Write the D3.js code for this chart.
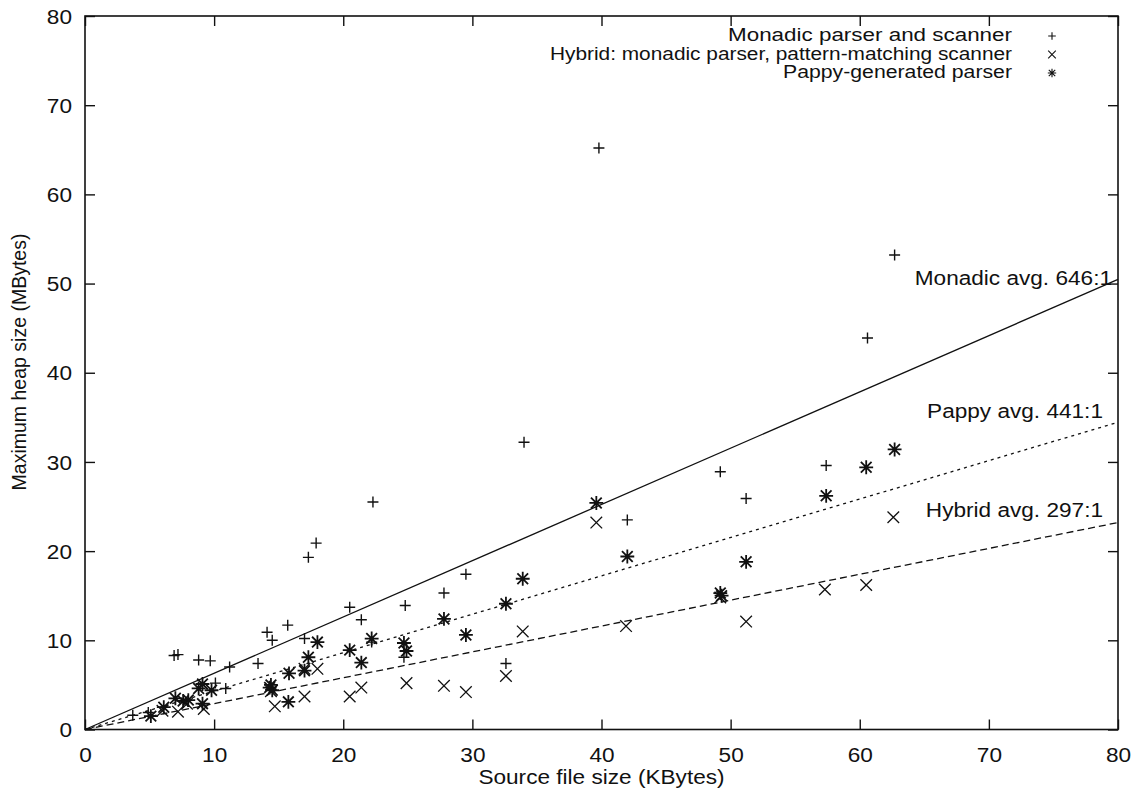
<!DOCTYPE html>
<html>
<head>
<meta charset="utf-8">
<script src="https://cdn.jsdelivr.net/npm/d3@7"></script>
<style>
  html, body { margin: 0; padding: 0; background: #fff; }
  svg { display: block; }
  text { font-family: "Liberation Sans", Arial, sans-serif; fill: #111; }
</style>
</head>
<body>
<svg id="chart" width="1135" height="801"></svg>
<script>
// ---------- DATA ----------
const xTicks = [0, 10, 20, 30, 40, 50, 60, 70, 80];
const yTicks = [0, 10, 20, 30, 40, 50, 60, 70, 80];

const seriesNames = [
  "Monadic parser and scanner",
  "Hybrid: monadic parser, pattern-matching scanner",
  "Pappy-generated parser"
];

// Monadic parser and scanner (+)
const monadic = [
  [3.7,1.6],[4.9,1.9],[6.9,8.3],[7.2,8.4],[8.8,7.8],[9.7,7.7],[10.1,5.2],[10.9,4.6],
  [11.2,7.0],[13.4,7.4],[14.1,10.9],[14.5,10.0],[15.7,11.7],[17.0,10.2],[17.3,19.3],
  [17.9,20.9],[20.5,13.7],[21.4,12.3],[22.3,25.5],[22.2,9.8],[24.8,13.9],[24.7,8.1],
  [27.8,15.3],[29.5,17.4],[32.6,7.4],[34.0,32.2],[39.8,65.2],[42.0,23.5],[49.2,28.9],
  [51.2,25.9],[57.4,29.6],[60.6,43.9],[62.7,53.2]
];

// Hybrid: monadic parser, pattern-matching scanner (x)
const hybrid = [
  [6.0,2.1],[7.2,2.0],[7.9,2.9],[9.2,2.3],[14.4,4.3],[14.7,2.6],[17.0,3.7],[17.0,6.8],
  [18.0,6.8],[20.5,3.7],[21.4,4.7],[24.9,5.2],[27.8,4.9],[29.5,4.2],[32.6,6.0],
  [33.9,11.0],[39.6,23.2],[41.9,11.6],[49.2,14.8],[51.2,12.1],[57.3,15.7],[60.5,16.2],
  [62.6,23.8]
];

// Pappy-generated parser (*)
const pappy = [
  [5.1,1.5],[6.1,2.5],[7.0,3.5],[7.6,3.2],[8.0,3.3],[8.8,4.6],[9.1,5.1],[9.1,2.9],
  [9.8,4.4],[14.3,4.7],[14.5,4.4],[14.4,5.0],[15.75,3.1],[15.8,6.3],[17.0,6.6],
  [17.3,8.1],[18.0,9.8],[20.5,8.9],[21.4,7.5],[22.2,10.2],[24.7,9.7],[24.9,8.8],
  [27.8,12.4],[29.5,10.6],[32.6,14.1],[33.9,16.9],[39.6,25.4],[42.0,19.4],[49.2,15.3],
  [49.3,15.0],[51.2,18.8],[57.4,26.2],[60.5,29.4],[62.7,31.4]
];

// Average ratio lines (heap bytes per source byte; MB per KB = ratio/1024)
const avgNames  = ["Monadic avg. 646:1", "Pappy avg. 441:1", "Hybrid avg. 297:1"];
const avgRatios = [646, 441, 297];

const xLabel = "Source file size (KBytes)";
const yLabel = "Maximum heap size (MBytes)";

// ---------- LAYOUT ----------
const L = 85, R = 1118, T = 16, B = 729.5;
const STRETCH = 1.13;   // the original figure is horizontally stretched
const FS = 20;

const svg = d3.select("#chart");
const x = d3.scaleLinear().domain([0, 80]).range([L, R]);
const y = d3.scaleLinear().domain([0, 80]).range([B, T]);

// axes (inward ticks, mirrored)
const gB = svg.append("g").attr("transform", `translate(0,${B})`)
  .call(d3.axisBottom(x).tickValues(xTicks).tickSizeInner(-10).tickSizeOuter(0).tickPadding(18.5));
const gL = svg.append("g").attr("transform", `translate(${L},0)`)
  .call(d3.axisLeft(y).tickValues(yTicks).tickSizeInner(-10).tickSizeOuter(0).tickPadding(13));
const gT = svg.append("g").attr("transform", `translate(0,${T})`)
  .call(d3.axisTop(x).tickValues(xTicks).tickSizeInner(-10).tickSizeOuter(0).tickFormat(""));
const gR = svg.append("g").attr("transform", `translate(${R},0)`)
  .call(d3.axisRight(y).tickValues(yTicks).tickSizeInner(-10).tickSizeOuter(0).tickFormat(""));

[gB, gL, gT, gR].forEach(g => {
  g.select(".domain").remove();
  g.selectAll(".tick line").attr("stroke", "#111").attr("stroke-width", 1.4);
  g.selectAll(".tick text").attr("font-size", FS).attr("fill", "#111")
    .style("font-family", '"Liberation Sans", Arial, sans-serif').classed("st", true);
});
gL.selectAll(".tick text").attr("dy", "0.36em");

// frame
svg.append("rect").attr("x", L).attr("y", T).attr("width", R - L).attr("height", B - T)
  .attr("fill", "none").attr("stroke", "#111").attr("stroke-width", 1.6);

// average lines
const lineStyles = [null, "3,4", "7,4"];
const lineGen = d3.line().x(d => x(d[0])).y(d => y(d[1]));
avgRatios.forEach((r, i) => {
  const pts = [[0, 0], [80, 80 * r / 1024]];
  svg.append("path").attr("d", lineGen(pts)).attr("fill", "none")
    .attr("stroke", "#111").attr("stroke-width", 1.3)
    .attr("stroke-dasharray", lineStyles[i]);
});

// line labels
const labelPos = [[1112, 285], [1103, 418], [1103, 517]];
avgNames.forEach((t, i) => {
  svg.append("text").attr("class", "st").attr("x", labelPos[i][0]).attr("y", labelPos[i][1])
    .attr("text-anchor", "end").attr("font-size", FS).text(t);
});

// marker shapes
function plus(g, cx, cy, s, w) {
  g.append("path").attr("d", `M${cx - s},${cy}H${cx + s}M${cx},${cy - s}V${cy + s}`)
    .attr("stroke", "#111").attr("stroke-width", w).attr("fill", "none");
}
function cross(g, cx, cy, s, w) {
  g.append("path").attr("d", `M${cx - s},${cy - s}L${cx + s},${cy + s}M${cx - s},${cy + s}L${cx + s},${cy - s}`)
    .attr("stroke", "#111").attr("stroke-width", w).attr("fill", "none");
}
function star(g, cx, cy, s, w) {
  plus(g, cx, cy, s * 1.1, w);
  cross(g, cx, cy, s * 0.85, w);
  g.append("circle").attr("cx", cx).attr("cy", cy).attr("r", s * 0.38).attr("fill", "#111");
}
const drawers = [plus, cross, star];
const allSeries = [monadic, hybrid, pappy];
const markerSizes = [5.5, 5.8, 6.3];
const markerWidths = [1.4, 1.3, 1.8];

allSeries.forEach((data, si) => {
  const g = svg.append("g");
  data.forEach(d => drawers[si](g, x(d[0]), y(d[1]), markerSizes[si], markerWidths[si]));
});

// legend
const legY = [41, 59.5, 78];
const legWidths = [284, 462, 229];
const LFS = 17.5;
seriesNames.forEach((n, i) => {
  svg.append("text").attr("x", 1012).attr("y", legY[i])
    .attr("text-anchor", "end").attr("font-size", LFS)
    .attr("textLength", legWidths[i]).attr("lengthAdjust", "spacingAndGlyphs").text(n);
  const g = svg.append("g");
  drawers[i](g, 1052, legY[i] - 5, 3.8, 1.1);
});

// axis titles
svg.append("text").attr("class", "st").attr("x", (L + R) / 2).attr("y", 784)
  .attr("text-anchor", "middle").attr("font-size", FS).text(xLabel);
svg.append("text").attr("transform", `translate(26,${362}) rotate(-90)`)
  .attr("text-anchor", "middle").attr("font-size", 19.5).text(yLabel);

// horizontal stretch of text to match the original's aspect
svg.selectAll("text.st").each(function () {
  const len = this.getComputedTextLength();
  if (len > 0) {
    d3.select(this).attr("textLength", len * STRETCH).attr("lengthAdjust", "spacingAndGlyphs");
  }
});
</script>
</body>
</html>
